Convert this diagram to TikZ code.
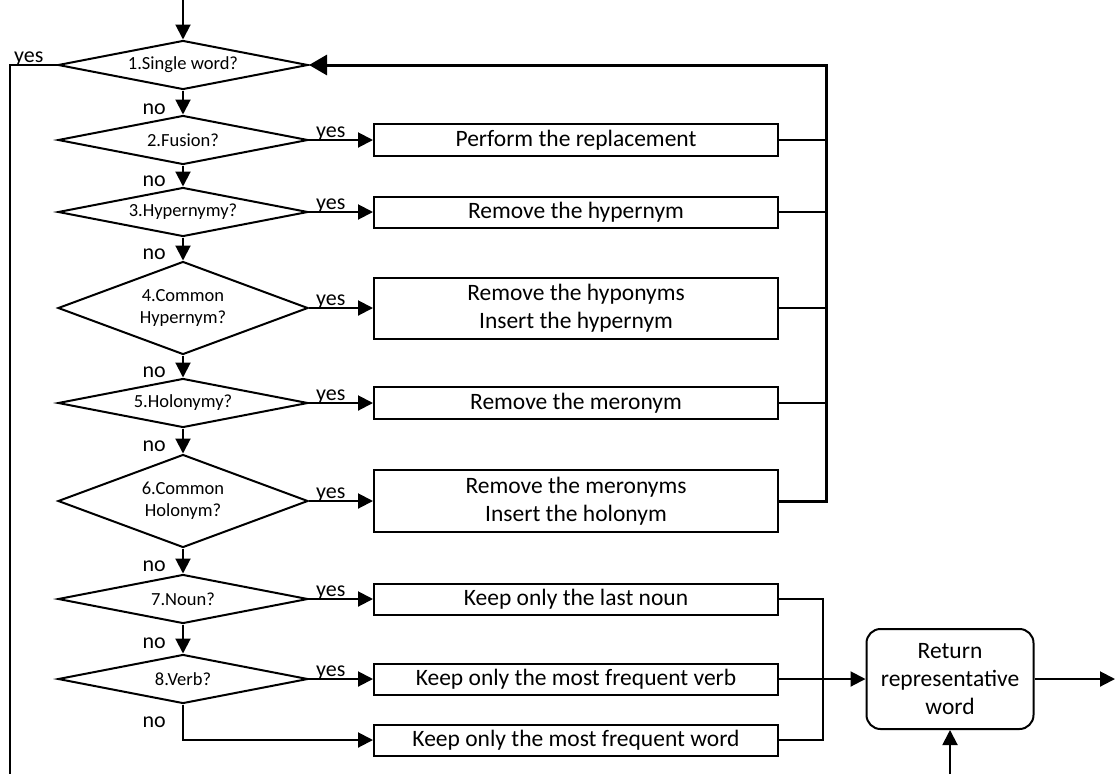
\documentclass[tikz,border=0pt]{standalone}
\usepackage{fontspec}
\setmainfont{Carlito}
\usetikzlibrary{shapes.geometric,arrows.meta}
\begin{document}
\begin{tikzpicture}[x=1pt,y=-1pt,
 dec/.style={diamond, draw, line width=2pt, inner sep=0pt, align=center, font=\fontsize{18.5}{22}\selectfont, minimum width=250pt, minimum height=49pt, aspect=5},
 dec2/.style={dec, minimum height=93pt, aspect=2.6},
 act/.style={rectangle, draw, line width=2pt, minimum width=404pt, minimum height=32pt, inner sep=0pt, align=center, font=\fontsize{23.5}{28}\selectfont},
 ret/.style={rectangle, rounded corners=14pt, draw, line width=2pt, minimum width=167pt, minimum height=100pt, inner sep=0pt, align=center, font=\fontsize{23.5}{28}\selectfont},
 lbl/.style={font=\fontsize{22}{24}\selectfont, inner sep=0pt},
 arr/.style={line width=2pt, -{Triangle[length=15pt,width=15pt]}},
 ln/.style={line width=2pt},
 fb/.style={line width=3pt}
]
\useasboundingbox (0,0) rectangle (1115,774);
% decisions
\node[dec] (d1) at (183,65) {1.Single word?};
\node[dec] (d2) at (183,140) {2.Fusion?};
\node[dec] (d3) at (183,212) {3.Hypernymy?};
\node[dec2] (d4) at (183,308) {4.Common\\Hypernym?};
\node[dec] (d5) at (183,403) {5.Holonymy?};
\node[dec2] (d6) at (183,501) {6.Common\\Holonym?};
\node[dec] (d7) at (183,599) {7.Noun?};
\node[dec] (d8) at (183,679) {8.Verb?};
% actions
\node[act] (b1) at (576,140) {Perform the replacement};
\node[act, minimum height=31pt] (b2) at (576,212) {Remove the hypernym};
\node[act, minimum height=61pt] (b3) at (576,308) {Remove the hyponyms\\Insert the hypernym};
\node[act] (b4) at (576,403) {Remove the meronym};
\node[act, minimum height=62pt] (b5) at (576,501) {Remove the meronyms\\Insert the holonym};
\node[act, minimum height=31pt] (b6) at (576,599) {Keep only the last noun};
\node[act, minimum height=31pt] (b7) at (576,679) {Keep only the most frequent verb};
\node[act, minimum height=31pt] (b8) at (576,740) {Keep only the most frequent word};
\node[ret] (r) at (950,679) {Return\\representative\\word};
% coordinates
\coordinate (top) at (183,0);
\coordinate (fbt) at (826,65);
\coordinate (yl) at (10,65);
\coordinate (yb) at (10,774);
\coordinate (mx) at (823,599);
\coordinate (out) at (1115,679);
\coordinate (rb) at (950,774);
% vertical flow
\draw[arr] (top) -- (d1.north);
\draw[arr] (d1.south) -- (d2.north);
\draw[arr] (d2.south) -- (d3.north);
\draw[arr] (d3.south) -- (d4.north);
\draw[arr] (d4.south) -- (d5.north);
\draw[arr] (d5.south) -- (d6.north);
\draw[arr] (d6.south) -- (d7.north);
\draw[arr] (d7.south) -- (d8.north);
\draw[arr] (d8.south) |- (b8.west);
% yes branches
\draw[arr] (d2.east) -- (b1.west);
\draw[arr] (d3.east) -- (b2.west);
\draw[arr] (d4.east) -- (b3.west);
\draw[arr] (d5.east) -- (b4.west);
\draw[arr] (d6.east) -- (b5.west);
\draw[arr] (d7.east) -- (b6.west);
\draw[arr] (d8.east) -- (b7.west);
% feedback
\draw[ln] (b1.east) -- (b1.east -| fbt);
\draw[ln] (b2.east) -- (b2.east -| fbt);
\draw[ln] (b3.east) -- (b3.east -| fbt);
\draw[ln] (b4.east) -- (b4.east -| fbt);
\draw[fb, -{Triangle[length=18pt,width=20pt]}] (b5.east) -- (b5.east -| fbt) -- (fbt) -- (d1.east);
% left yes branch
\draw[ln] (d1.west) -- (yl) -- (yb);
% merge
\draw[ln] (b6.east) -- (mx) |- (b8.east);
\draw[arr] (b7.east) -- (r.west);
\draw[arr] (r.east) -- (out);
\draw[arr] (rb) -- (r.south);
% labels
\node[lbl, anchor=base west] (y0) at (14,62) {yes};
\node[lbl, anchor=base east] (n1) at (166,114) {no};
\node[lbl, anchor=base east] (n2) at (166,186) {no};
\node[lbl, anchor=base east] (n3) at (166,259) {no};
\node[lbl, anchor=base east] (n4) at (166,377) {no};
\node[lbl, anchor=base east] (n5) at (166,451) {no};
\node[lbl, anchor=base east] (n6) at (166,571) {no};
\node[lbl, anchor=base east] (n7) at (166,648) {no};
\node[lbl, anchor=base east] (n8) at (166,727) {no};
\node[lbl, anchor=base west] (y2) at (316,137) {yes};
\node[lbl, anchor=base west] (y3) at (316,209) {yes};
\node[lbl, anchor=base west] (y4) at (316,305) {yes};
\node[lbl, anchor=base west] (y5) at (316,400) {yes};
\node[lbl, anchor=base west] (y6) at (316,498) {yes};
\node[lbl, anchor=base west] (y7) at (316,596) {yes};
\node[lbl, anchor=base west] (y8) at (316,676) {yes};
\end{tikzpicture}
\end{document}
